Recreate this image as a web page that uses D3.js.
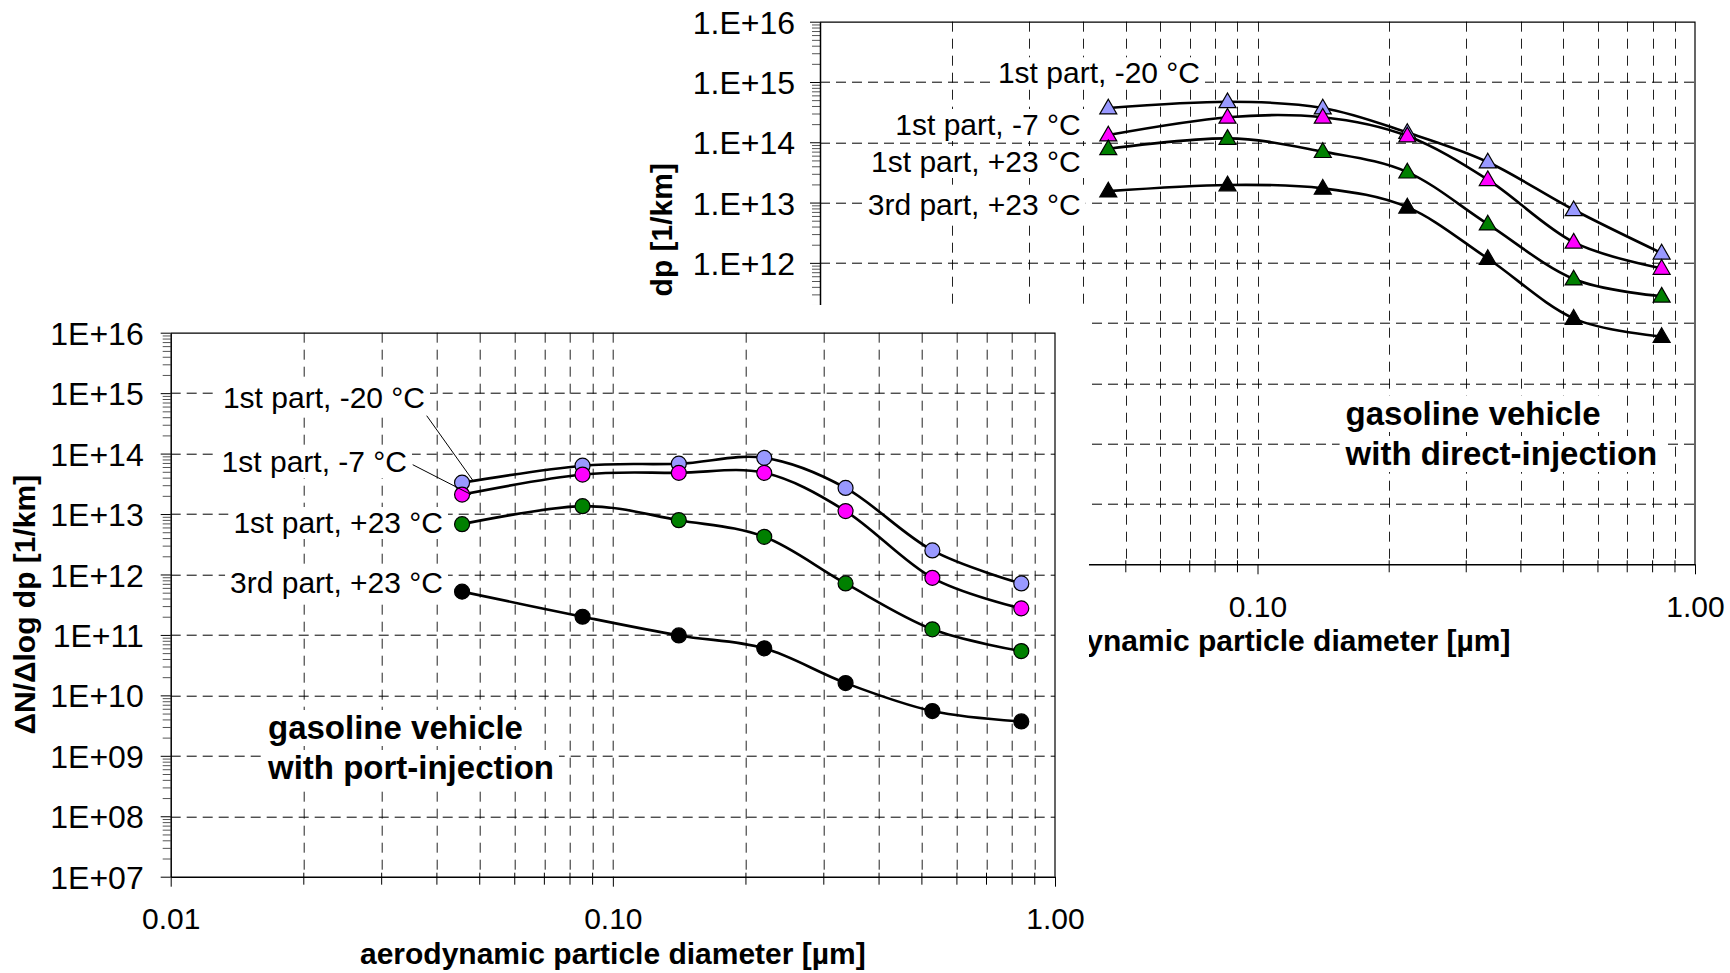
<!DOCTYPE html>
<html>
<head>
<meta charset="utf-8">
<script src="https://d3js.org/d3.v7.min.js"></script>
<style>
  body { margin: 0; background: #fff; }
  svg text { font-family: "Liberation Sans", Arial, sans-serif; fill: #000; }
</style>
</head>
<body>
<svg id="fig" width="1730" height="973"></svg>
<script>
// aerodynamic particle diameter [um], same stages in both panels
const diameters = [0.0456, 0.0854, 0.141, 0.220, 0.336, 0.528, 0.839];

const seriesNames = ["1st part, -20 °C", "1st part, -7 °C", "1st part, +23 °C", "3rd part, +23 °C"];
const seriesColors = ["#9999ff", "#ff00ff", "#008000", "#000000"];

// port-injection vehicle (front panel), dN/dlog dp [1/km]
const portM20 = [3.3e13, 6.3e13, 6.8e13, 8.5e13, 2.7e13, 2.5e12, 7.1e11];
const portM7  = [2.1e13, 4.5e13, 4.8e13, 4.8e13, 1.12e13, 8.8e11, 2.75e11];
const portP23 = [6.8e12, 1.35e13, 7.9e12, 4.2e12, 7.1e11, 1.24e11, 5.4e10];
const port3rd = [5.2e11, 2.0e11, 9.8e10, 6.0e10, 1.6e10, 5.5e9, 3.7e9];

// direct-injection vehicle (back panel)
const directM20 = [3.7e14, 4.7e14, 3.7e14, 1.45e14, 4.7e13, 7.6e12, 1.45e12];
const directM7  = [1.32e14, 2.6e14, 2.6e14, 1.27e14, 2.4e13, 2.2e12, 8.1e11];
const directP23 = [7.8e13, 1.16e14, 7.0e13, 3.2e13, 4.4e12, 5.4e11, 2.8e11];
const direct3rd = [1.55e13, 1.96e13, 1.72e13, 8.4e12, 1.18e12, 1.2e11, 6.0e10];

const xTickLabels = ["0.01", "0.10", "1.00"];
const portYLabels = ["1E+07", "1E+08", "1E+09", "1E+10", "1E+11", "1E+12", "1E+13", "1E+14", "1E+15", "1E+16"];
const directYLabels = ["1.E+07", "1.E+08", "1.E+09", "1.E+10", "1.E+11", "1.E+12", "1.E+13", "1.E+14", "1.E+15", "1.E+16"];

const xTitle = "aerodynamic particle diameter [\u00b5m]";
const yTitle = "\u0394N/\u0394log dp [1/km]";
const portNote = ["gasoline vehicle", "with port-injection"];
const directNote = ["gasoline vehicle", "with direct-injection"];

const svg = d3.select("#fig");

function boxedText(g, str, x, y, anchor, size, weight) {
    const t = g.append("text")
        .attr("x", x).attr("y", y)
        .attr("text-anchor", anchor)
        .style("font-size", size + "px")
        .style("font-weight", weight)
        .text(str);
    const b = t.node().getBBox();
    g.insert("rect", () => t.node())
        .attr("x", b.x - 5).attr("y", b.y + 1)
        .attr("width", b.width + 10).attr("height", b.height - 1)
        .attr("fill", "#fff");
    return t;
}

function drawPanel(cfg) {
    const w = cfg.width, h = cfg.height;
    const g = svg.append("g")
        .attr("transform", "translate(" + cfg.left + "," + cfg.top + ")");

    const x = d3.scaleLog().domain([0.01, 1]).range([0, w]);
    const y = d3.scaleLog().domain([1e7, 1e16]).range([h, 0]);
    const isMajor = v => Math.abs(Math.log10(v) - Math.round(Math.log10(v))) < 1e-6;

    const xAll = x.ticks();
    const yAll = y.ticks();
    const xMajor = xAll.filter(isMajor);
    const xMinor = xAll.filter(v => !isMajor(v));
    const yMajor = yAll.filter(isMajor);
    const yMinor = yAll.filter(v => !isMajor(v));

    // dashed grid
    const grid = g.append("g");
    grid.selectAll("line.v")
        .data(xAll.filter(v => v > 0.01 && v < 1))
        .join("line")
        .attr("class", "v")
        .attr("x1", d => Math.round(x(d)) + 0.5).attr("x2", d => Math.round(x(d)) + 0.5)
        .attr("y1", 0).attr("y2", h)
        .attr("stroke", "#222").attr("stroke-width", 1)
        .attr("stroke-dasharray", "10,7");
    grid.selectAll("line.h")
        .data(yMajor.filter(v => v > 1e7 && v < 1e16))
        .join("line")
        .attr("class", "h")
        .attr("x1", 0).attr("x2", w)
        .attr("y1", d => Math.round(y(d)) + 0.5).attr("y2", d => Math.round(y(d)) + 0.5)
        .attr("stroke", "#000").attr("stroke-width", 1)
        .attr("stroke-dasharray", "10,6");

    // top and right border
    g.append("path")
        .attr("d", "M0,0.5H" + w + "V" + h)
        .attr("fill", "none").attr("stroke", "#000").attr("stroke-width", 1.2);

    // Y axis
    g.append("g")
        .attr("class", "yminor")
        .call(d3.axisLeft(y).tickValues(yMinor).tickSize(8).tickFormat(""))
        .call(s => s.select(".domain").remove())
        .selectAll("line").attr("stroke", "#555");
    const yAx = g.append("g")
        .call(d3.axisLeft(y).tickValues(yMajor).tickSize(10).tickSizeOuter(0)
            .tickPadding(cfg.yPad).tickFormat((d, i) => cfg.yLabels[i]));
    yAx.select(".domain").attr("stroke-width", 1.5);
    yAx.selectAll("text").style("font-size", "32px").attr("dy", "0.36em");

    // X axis
    const xAx = g.append("g")
        .attr("transform", "translate(0," + h + ")")
        .call(d3.axisBottom(x).tickValues(xMajor).tickSize(10).tickSizeOuter(0)
            .tickPadding(21.5).tickFormat((d, i) => xTickLabels[i]));
    xAx.select(".domain").attr("stroke-width", 1.5);
    xAx.selectAll("text").style("font-size", "30px");
    xAx.selectAll("line.minor")
        .data(xMinor)
        .join("line")
        .attr("class", "minor")
        .attr("x1", d => x(d)).attr("x2", d => x(d))
        .attr("y1", -4).attr("y2", 8)
        .attr("stroke", "#000");

    // axis titles
    g.append("text")
        .attr("x", w / 2).attr("y", h + 87)
        .attr("text-anchor", "middle")
        .style("font-size", "30px").style("font-weight", "bold")
        .text(xTitle);
    g.append("text")
        .attr("transform", "translate(" + cfg.yTitleX + "," + (h / 2) + ") rotate(-90)")
        .attr("text-anchor", "middle")
        .style("font-size", "30px").style("font-weight", "bold")
        .text(yTitle);

    // series labels and vehicle note
    seriesNames.forEach((name, i) => {
        boxedText(g, name, cfg.labelPos[i][0], cfg.labelPos[i][1], "end", 30, "normal");
    });
    cfg.note.forEach((line, i) => {
        boxedText(g, line, cfg.notePos[0], cfg.notePos[1] + i * 40, "start", 33, "bold");
    });

    // series
    const line = d3.line()
        .x((d, i) => x(diameters[i]))
        .y(d => y(d))
        .curve(d3.curveCatmullRom.alpha(0));
    cfg.values.forEach((vals, s) => {
        const sg = g.append("g");
        sg.append("path")
            .attr("d", line(vals))
            .attr("fill", "none").attr("stroke", "#000").attr("stroke-width", 2.6);
        if (cfg.marker === "circle") {
            sg.selectAll("circle").data(vals).join("circle")
                .attr("cx", (d, i) => x(diameters[i]))
                .attr("cy", d => y(d))
                .attr("r", 7.5)
                .attr("fill", seriesColors[s]).attr("stroke", "#000").attr("stroke-width", 1.2);
        } else {
            sg.selectAll("path.mk").data(vals).join("path")
                .attr("class", "mk")
                .attr("transform", (d, i) => "translate(" + x(diameters[i]) + "," + (y(d) + 1) + ")")
                .attr("d", d3.symbol(d3.symbolTriangle, 125))
                .attr("fill", seriesColors[s]).attr("stroke", "#000").attr("stroke-width", 1.2);
        }
    });

    // leader lines from labels to first points
    cfg.leaders.forEach(ld => {
        const v = cfg.values[ld.series][0];
        g.append("line")
            .attr("x1", ld.from[0]).attr("y1", ld.from[1])
            .attr("x2", x(diameters[0]) + ld.dx).attr("y2", y(v) + ld.dy)
            .attr("stroke", "#000").attr("stroke-width", 1);
    });
}

// back panel: direct injection
drawPanel({
    left: 820, top: 21.7, width: 875, height: 542.6,
    values: [directM20, directM7, directP23, direct3rd],
    marker: "triangle",
    yLabels: directYLabels, yPad: 15, yTitleX: -148,
    labelPos: [[380, 61.6], [260.7, 113.3], [260.7, 150.3], [260.7, 193.3]],
    note: directNote, notePos: [525.6, 403.3],
    leaders: []
});

// white chart area of the front panel covering the back one
svg.append("rect")
    .attr("x", 0).attr("y", 305)
    .attr("width", 1089).attr("height", 668)
    .attr("fill", "#fff");

// front panel: port injection
drawPanel({
    left: 170.7, top: 332.7, width: 884.3, height: 544,
    values: [portM20, portM7, portP23, port3rd],
    marker: "circle",
    yLabels: portYLabels, yPad: 17, yTitleX: -136,
    labelPos: [[254.3, 75.3], [236.3, 139.3], [272.3, 200.3], [272.3, 260.3]],
    note: portNote, notePos: [97.3, 406.3],
    leaders: [
        {series: 0, from: [256, 83], dx: 11, dy: -2},
        {series: 1, from: [242, 132], dx: 9, dy: 0}
    ]
});
</script>
</body>
</html>
